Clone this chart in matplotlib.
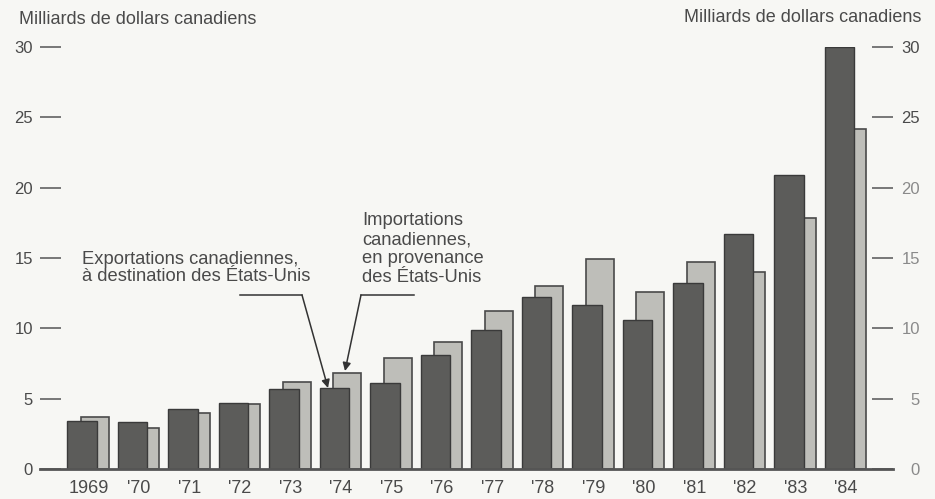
import matplotlib
matplotlib.use("Agg")
import matplotlib.pyplot as plt
import numpy as np

years = ["1969", "'70", "'71", "'72", "'73", "'74", "'75", "'76",
         "'77", "'78", "'79", "'80", "'81", "'82", "'83", "'84"]
exports = [3.4, 3.35, 4.3, 4.7, 5.7, 5.75, 6.1, 8.1,
           9.85, 12.2, 11.65, 10.6, 13.2, 16.7, 20.9, 30.0]
imports = [3.7, 2.95, 3.95, 4.6, 6.2, 6.85, 7.9, 9.0,
           11.2, 13.0, 14.95, 12.6, 14.7, 14.0, 17.85, 24.2]
yticks = [0, 5, 10, 15, 20, 25, 30]
unit_label = "Milliards de dollars canadiens"
export_label = "Exportations canadiennes,\nà destination des États-Unis"
import_label = "Importations\ncanadiennes,\nen provenance\ndes États-Unis"

plt.rcParams['font.family'] = ['Liberation Sans', 'DejaVu Sans']
txt = '#4a4a4a'
bg = '#f7f7f4'

W, H = 935, 499
fig = plt.figure(figsize=(W / 100, H / 100), dpi=100, facecolor=bg)
# axes from x=40 to 893 px, y0 at 469 px, y30 at 47 px
ax_left, ax_right = 40, 893
y0px, y30px = 469, 47
ax = fig.add_axes([ax_left / W, 1 - y0px / H, (ax_right - ax_left) / W, (y0px - y30px) / H])
ax.set_facecolor(bg)
ax.patch.set_alpha(0)

x = np.arange(len(years))
off = 0.128
ax.bar(x + off, imports, width=0.555, color='#bebeb9', edgecolor='#4a4a4a', linewidth=1.2, zorder=2)
ax.bar(x - off, exports, width=0.575, color='#5c5c5a', edgecolor='#3a3a3a', linewidth=1.0, zorder=3)

ax.set_ylim(0, 30)
ax.set_xlim(-0.96, -0.96 + (ax_right - ax_left) / 50.5)

for s in ['top', 'left', 'right']:
    ax.spines[s].set_visible(False)
ax.spines['bottom'].set_color('#555555')
ax.spines['bottom'].set_linewidth(2)
ax.spines['bottom'].set_zorder(4)

ax.set_yticks(yticks)
ax.set_yticklabels([str(v) for v in yticks])
ax.tick_params(axis='y', direction='in', length=15, width=1.1,
               color='#555555', labelsize=12, labelcolor=txt, pad=5,
               left=True, right=False, labelleft=True, labelright=False)
ax.set_xticks(x)
ax.set_xticklabels(years)
ax.tick_params(axis='x', length=0, labelsize=13, labelcolor=txt, pad=8)

# right-hand scale
ax2 = ax.twinx()
ax2.set_ylim(0, 30)
for s in ['top', 'left', 'right', 'bottom']:
    ax2.spines[s].set_visible(False)
ax2.set_yticks(yticks)
ax2.set_yticklabels([str(v) for v in yticks])
ax2.tick_params(axis='y', direction='in', length=15, width=1.1,
                color='#555555', labelsize=12, labelcolor=txt, pad=19.5)
for lab in ax2.get_yticklabels():
    lab.set_horizontalalignment('right')
    if lab.get_text() not in ('25', '30'):
        lab.set_color('#8a8a8a')

fig.text(19 / W, 1 - 19 / H, unit_label, ha='left', va='center', fontsize=13, color=txt)
fig.text(921 / W, 1 - 17 / H, unit_label, ha='right', va='center', fontsize=13, color=txt)

def px2data(px, py):
    disp = (px, H - py)
    return ax.transData.inverted().transform(disp)

# annotations
fig.text(82 / W, 1 - 268 / H, export_label, ha='left', va='center', fontsize=13.2,
         color=txt, linespacing=1.05)
fig.text(362 / W, 1 - 249 / H, import_label, ha='left', va='center', fontsize=13.2,
         color=txt, linespacing=1.15)

p1 = px2data(240, 295); p2 = px2data(302, 295); p3 = px2data(328, 388)
ax.plot([p1[0], p2[0]], [p1[1], p2[1]], color='#333333', lw=1.1, clip_on=False, zorder=5)
ax.annotate('', xy=p3, xytext=p2, arrowprops=dict(arrowstyle='-|>', color='#333333', lw=1.1,
            mutation_scale=12, shrinkA=0, shrinkB=0), annotation_clip=False, zorder=5)
q1 = px2data(414, 295); q2 = px2data(361, 295); q3 = px2data(345, 371)
ax.plot([q1[0], q2[0]], [q1[1], q2[1]], color='#333333', lw=1.1, clip_on=False, zorder=5)
ax.annotate('', xy=q3, xytext=q2, arrowprops=dict(arrowstyle='-|>', color='#333333', lw=1.1,
            mutation_scale=12, shrinkA=0, shrinkB=0), annotation_clip=False, zorder=5)

fig.savefig('out.png', dpi=100, facecolor=bg)
